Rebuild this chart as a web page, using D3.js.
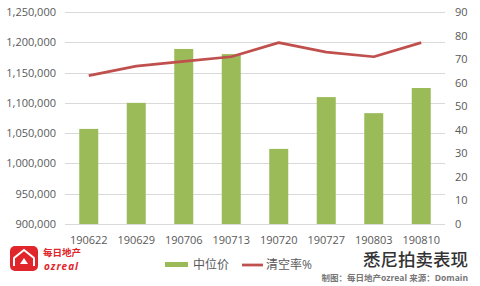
<!DOCTYPE html>
<meta charset="utf-8">
<script src="https://d3js.org/d3.v7.min.js"></script>
<style>
body { margin: 0; background: #fff; }
text { font-family: "Open Sans", "Noto Sans CJK SC", sans-serif; fill: #595959; }
</style>
<body>
<div id="chart"></div>
<script>
// data
var weeks = ['190622', '190629', '190706', '190713', '190720', '190727', '190803', '190810'];
var median = [1057000, 1100000, 1189000, 1180500, 1024000, 1109500, 1083000, 1124500];
var clearance = [63, 67, 69, 71, 77, 73, 71, 77];
var leftTicks = [900000, 950000, 1000000, 1050000, 1100000, 1150000, 1200000, 1250000];
var rightTicks = [0, 10, 20, 30, 40, 50, 60, 70, 80, 90];

var W = 480, H = 286;
var margin = {top: 12, right: 35, bottom: 62, left: 65};

var svg = d3.select('#chart').append('svg')
    .attr('width', W)
    .attr('height', H);

var x = d3.scaleBand()
    .domain(weeks)
    .range([margin.left, W - margin.right]);

var yL = d3.scaleLinear()
    .domain([900000, 1250000])
    .range([H - margin.bottom, margin.top]);

var yR = d3.scaleLinear()
    .domain([0, 90])
    .range([H - margin.bottom, margin.top]);

// gridlines
svg.append('g')
    .selectAll('line')
    .data(leftTicks)
    .enter()
    .append('line')
    .attr('x1', margin.left)
    .attr('x2', W - margin.right)
    .attr('y1', function(d) { return Math.round(yL(d)) + 0.5; })
    .attr('y2', function(d) { return Math.round(yL(d)) + 0.5; })
    .attr('stroke', '#d9d9d9')
    .attr('stroke-width', 1);

// left axis labels
var fmt = d3.format(',');
svg.append('g')
    .selectAll('text')
    .data(leftTicks)
    .enter()
    .append('text')
    .attr('x', 56)
    .attr('y', function(d) { return yL(d) + 4; })
    .attr('text-anchor', 'end')
    .style('font-size', '11px')
    .text(function(d) { return fmt(d); });

// right axis labels
svg.append('g')
    .selectAll('text')
    .data(rightTicks)
    .enter()
    .append('text')
    .attr('x', 455)
    .attr('y', function(d) { return yR(d) + 4; })
    .attr('text-anchor', 'start')
    .style('font-size', '11px')
    .text(function(d) { return d; });

// x labels
svg.append('g')
    .selectAll('text')
    .data(weeks)
    .enter()
    .append('text')
    .attr('x', function(d) { return x(d) + x.bandwidth() / 2; })
    .attr('y', H - margin.bottom + 20)
    .attr('text-anchor', 'middle')
    .style('font-size', '11px')
    .text(function(d) { return d; });

// bars
var barW = x.bandwidth() * 0.4;
svg.append('g')
    .selectAll('rect')
    .data(weeks)
    .enter()
    .append('rect')
    .attr('x', function(d) { return x(d) + (x.bandwidth() - barW) / 2; })
    .attr('y', function(d, i) { return yL(median[i]); })
    .attr('width', barW)
    .attr('height', function(d, i) { return yL(900000) - yL(median[i]); })
    .attr('fill', '#9bbb59');

// clearance line
var line = d3.line()
    .x(function(d, i) { return x(weeks[i]) + x.bandwidth() / 2; })
    .y(function(d) { return yR(d); });

svg.append('path')
    .datum(clearance)
    .attr('d', line)
    .attr('fill', 'none')
    .attr('stroke', '#c0504d')
    .attr('stroke-width', 2.75)
    .attr('stroke-linejoin', 'round');

// legend
var legend = svg.append('g');
legend.append('rect')
    .attr('x', 165).attr('y', 262)
    .attr('width', 23).attr('height', 5)
    .attr('fill', '#9bbb59');
legend.append('text')
    .attr('x', 193).attr('y', 269)
    .style('font-size', '12px')
    .text('中位价');
legend.append('line')
    .attr('x1', 242).attr('x2', 263)
    .attr('y1', 265).attr('y2', 265)
    .attr('stroke', '#c0504d')
    .attr('stroke-width', 2.75);
legend.append('text')
    .attr('x', 266).attr('y', 269)
    .style('font-size', '12px')
    .text('清空率%');

// title and source
svg.append('text')
    .attr('x', 468).attr('y', 266)
    .attr('text-anchor', 'end')
    .style('font-size', '17.5px')
    .style('font-weight', '500')
    .style('fill', '#333')
    .text('悉尼拍卖表现');
svg.append('text')
    .attr('x', 468).attr('y', 281)
    .attr('text-anchor', 'end')
    .style('font-size', '8.5px')
    .style('font-weight', 'bold')
    .style('fill', '#777')
    .text('制图：每日地产ozreal 来源：Domain');

// logo
var logo = svg.append('g');
logo.append('rect')
    .attr('x', 10).attr('y', 246)
    .attr('width', 28).attr('height', 25)
    .attr('rx', 5)
    .attr('fill', '#e0252b');
logo.append('path')
    .attr('d', 'M14,266 L14,258 L24,250 L34,258 L34,266')
    .attr('fill', 'none')
    .attr('stroke', '#fff')
    .attr('stroke-width', 2);
logo.append('path')
    .attr('d', 'M20,264 L24,258 L28,264 Z')
    .attr('fill', '#fff');
logo.append('text')
    .attr('x', 43).attr('y', 256)
    .style('font-size', '9.5px')
    .style('font-weight', 'bold')
    .style('fill', '#e0252b')
    .text('每日地产');
logo.append('text')
    .attr('x', 44).attr('y', 270)
    .style('font-size', '10px')
    .style('font-weight', 'bold')
    .style('font-style', 'italic')
    .style('letter-spacing', '1px')
    .style('fill', '#e0252b')
    .text('ozreal');
</script>
</body>
